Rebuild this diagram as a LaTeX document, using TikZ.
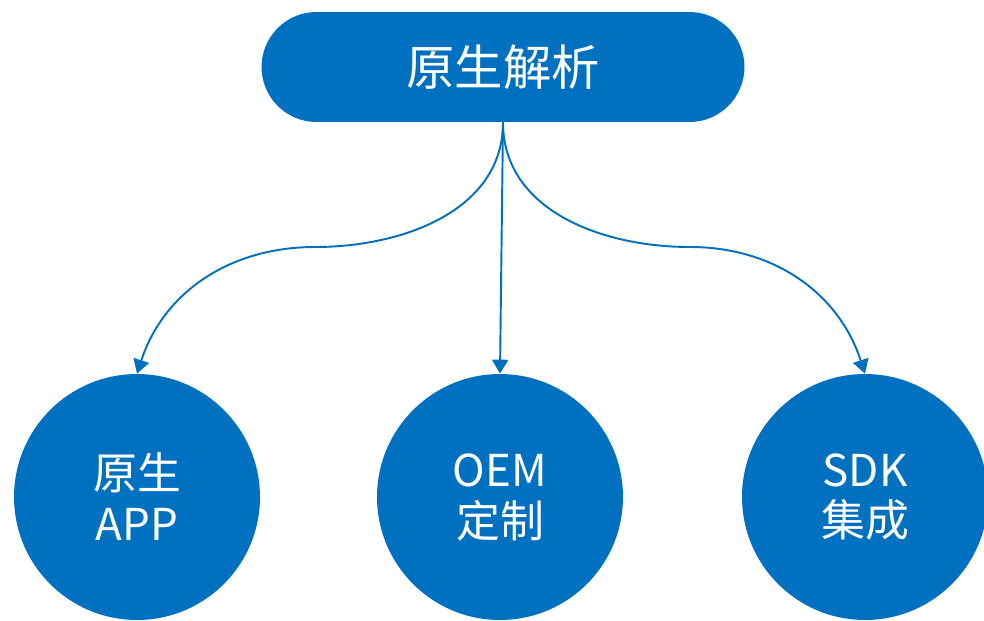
\documentclass[tikz,border=0pt]{standalone}
\usepackage{fontspec}
\setmainfont{Noto Sans CJK SC}
\usetikzlibrary{arrows.meta, positioning, shapes.geometric}
\definecolor{MainBlue}{HTML}{0070C0}

\begin{document}
\begin{tikzpicture}[x=0.02cm, y=-0.02cm,
        topbox/.style={fill=MainBlue, draw=none, rounded corners=1.1cm, minimum width=9.66cm, minimum height=2.2cm, text=white, font=\fontsize{27.5}{32}\selectfont},
        leaf/.style={circle, fill=MainBlue, draw=none, minimum size=4.92cm, inner sep=0pt, text=white, align=center, font=\fontsize{25}{29}\selectfont},
        link/.style={-{Triangle[length=0.28cm, width=0.32cm]}, MainBlue, line width=1.1pt}]
        \useasboundingbox (0,0) rectangle (984,620);

        % Main box
        \node[topbox] (root) at (503,67) {原生解析};

        % Three branches
        \node[leaf] (native) at (137,497) {原生\\APP};
        \node[leaf] (oem) at (500,497) {OEM\\定制};
        \node[leaf] (sdk) at (865,497) {SDK\\集成};

        % Bend points of the side links
        \coordinate (bendL) at (315,247);
        \coordinate (bendR) at (690,247);

        \draw[link] (root.south) to[out=-90, in=0] (bendL) to[out=180, in=72] (native.north);
        \draw[link] (root.south) -- (oem.north);
        \draw[link] (root.south) to[out=-90, in=180] (bendR) to[out=0, in=108] (sdk.north);
    \end{tikzpicture}
\end{document}
